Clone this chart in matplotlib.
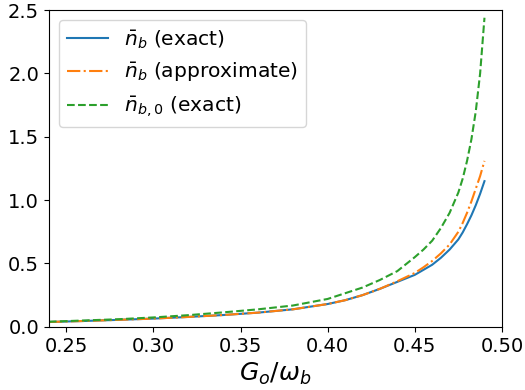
import numpy as np
import matplotlib.pyplot as plt

# values
G = [0.24, 0.26, 0.28, 0.30, 0.32, 0.34, 0.36, 0.38, 0.40, 0.41, 0.42, 0.43,
     0.44, 0.45, 0.455, 0.46, 0.465, 0.47, 0.475, 0.4775, 0.48, 0.4825,
     0.485, 0.4875, 0.49]
nb_exact = [0.038, 0.046, 0.055, 0.065, 0.078, 0.093, 0.112, 0.138, 0.18, 0.21,
            0.25, 0.30, 0.355, 0.41, 0.45, 0.49, 0.545, 0.61, 0.69, 0.745, 0.81,
            0.88, 0.96, 1.05, 1.15]
nb_approx = [0.038, 0.046, 0.055, 0.065, 0.078, 0.093, 0.112, 0.138, 0.18, 0.21,
             0.25, 0.30, 0.36, 0.425, 0.47, 0.52, 0.58, 0.65, 0.75, 0.82, 0.90,
             0.99, 1.09, 1.19, 1.31]
nb0_exact = [0.040, 0.050, 0.060, 0.074, 0.092, 0.114, 0.138, 0.168, 0.22, 0.265,
             0.31, 0.37, 0.44, 0.55, 0.61, 0.68, 0.78, 0.90, 1.06, 1.17, 1.31,
             1.48, 1.70, 2.00, 2.44]

plt.figure(figsize=(5.25, 3.9), dpi=100)
plt.plot(G, nb_exact, '-', color='tab:blue', label=r'$\bar{n}_b$ (exact)')
plt.plot(G, nb_approx, '-.', color='tab:orange', label=r'$\bar{n}_b$ (approximate)')
plt.plot(G, nb0_exact, '--', color='tab:green', label=r'$\bar{n}_{b,0}$ (exact)')
plt.xlim(0.24, 0.50)
plt.ylim(0, 2.5)
plt.xticks([0.25, 0.30, 0.35, 0.40, 0.45, 0.50], fontsize=14)
plt.yticks([0.0, 0.5, 1.0, 1.5, 2.0, 2.5], fontsize=14)
plt.xlabel(r'$G_o/\omega_b$', fontsize=18)
plt.legend(loc='upper left', fontsize=14.6)
plt.subplots_adjust(left=0.093, right=0.956, top=0.974, bottom=0.162)
plt.savefig('out.png', dpi=100)
